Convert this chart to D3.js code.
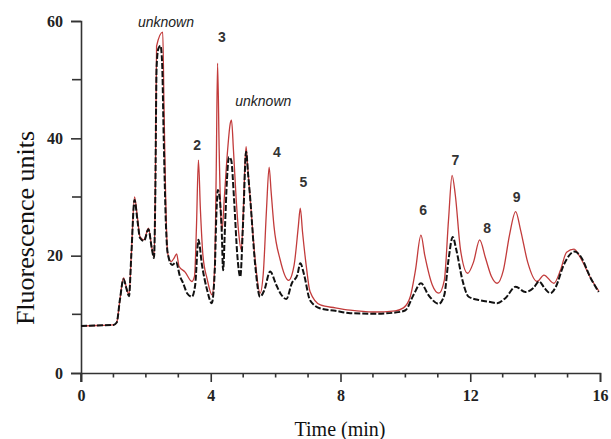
<!DOCTYPE html>
<html>
<head>
<meta charset="utf-8">
<script src="https://cdn.jsdelivr.net/npm/d3@7"></script>
<style>
  body { margin: 0; background: #fff; }
  svg { display: block; }
  .tick-lbl { font-family: "Liberation Serif", "Times New Roman", serif; font-size: 16px; font-weight: bold; fill: #222; }
  .axis-title { font-family: "Liberation Serif", "Times New Roman", serif; fill: #111; }
  .peak-lbl { font-family: "Liberation Sans", Arial, sans-serif; font-size: 14px; font-weight: bold; fill: #333; }
  .unk-lbl { font-family: "Liberation Sans", Arial, sans-serif; font-size: 14px; font-style: italic; fill: #222; }
</style>
</head>
<body>
<svg id="chart" width="611" height="439"></svg>
<script>
// red trace (solid)
var redTime = [0, 0.5, 1.0, 1.1, 1.2, 1.31, 1.4, 1.48, 1.55, 1.65, 1.74, 1.82, 1.94, 2.08, 2.18, 2.25, 2.29, 2.33, 2.52, 2.56, 2.61, 2.67, 2.78, 2.87, 2.95, 3.02, 3.21, 3.42, 3.5, 3.56, 3.62, 3.68, 3.76, 3.89, 4.04, 4.12, 4.17, 4.21, 4.26, 4.30, 4.35, 4.42, 4.52, 4.60, 4.64, 4.70, 4.78, 4.86, 4.94, 5.0, 5.05, 5.09, 5.14, 5.22, 5.37, 5.52, 5.62, 5.72, 5.80, 5.86, 5.95, 6.14, 6.40, 6.57, 6.70, 6.76, 6.83, 6.95, 7.06, 7.38, 7.84, 8.30, 9.01, 9.69, 9.94, 10.15, 10.31, 10.48, 10.6, 10.83, 11.03, 11.20, 11.33, 11.44, 11.54, 11.70, 11.92, 12.10, 12.29, 12.47, 12.65, 12.83, 13.02, 13.21, 13.40, 13.55, 13.77, 14.06, 14.27, 14.58, 14.78, 14.97, 15.2, 15.40, 15.71, 15.96];
var redSignal = [8.0, 8.1, 8.2, 8.6, 12.5, 16.2, 14.6, 13.3, 20, 30.0, 26.5, 23.2, 22.7, 24.7, 21.5, 19.8, 30, 55.7, 58.1, 45, 30, 20.5, 19.0, 19.6, 20.3, 18.2, 17.2, 15.6, 16.5, 25, 36.3, 28, 20, 16.0, 13.3, 18, 35, 52.8, 38, 28, 24.4, 30, 38, 42.5, 43.1, 38, 30, 24, 21.0, 27, 35, 38.6, 35, 29.5, 19.3, 13.6, 17, 28, 35.1, 31, 25, 19.3, 15.8, 18.4, 25, 28.1, 24, 18, 13.9, 11.6, 11.1, 10.7, 10.4, 10.6, 11.1, 13.0, 17.5, 23.5, 20.0, 15.0, 13.6, 15.8, 26.1, 33.7, 30.3, 21.0, 17.0, 18.9, 22.7, 19.6, 16.5, 15.3, 17.5, 23.5, 27.5, 24.4, 18.9, 15.6, 16.7, 15.3, 17.5, 20.6, 21.1, 19.6, 16.2, 14.0];

// black trace (dashed)
var blackTime = [0, 0.5, 1.0, 1.1, 1.2, 1.31, 1.4, 1.48, 1.55, 1.65, 1.74, 1.82, 1.94, 2.08, 2.18, 2.25, 2.29, 2.33, 2.38, 2.45, 2.5, 2.55, 2.62, 2.67, 2.81, 2.93, 3.05, 3.15, 3.27, 3.42, 3.52, 3.62, 3.73, 3.89, 4.03, 4.12, 4.18, 4.22, 4.29, 4.34, 4.38, 4.44, 4.50, 4.56, 4.63, 4.72, 4.82, 4.91, 5.0, 5.09, 5.15, 5.22, 5.37, 5.52, 5.65, 5.83, 6.02, 6.18, 6.33, 6.50, 6.67, 6.76, 6.88, 7.06, 7.38, 7.84, 8.30, 9.01, 9.69, 10.0, 10.25, 10.48, 10.71, 11.03, 11.20, 11.33, 11.46, 11.57, 11.76, 11.95, 12.31, 12.62, 12.83, 13.09, 13.40, 13.70, 13.95, 14.12, 14.30, 14.47, 14.63, 14.88, 15.22, 15.40, 15.71, 15.96];
var blackSignal = [8.0, 8.1, 8.2, 8.6, 12.5, 16.0, 14.4, 13.1, 20, 29.5, 26, 23.0, 22.5, 24.5, 21.3, 19.6, 30, 52, 55.2, 55.8, 53, 40, 25, 20.5, 18.4, 18.9, 16.5, 15.3, 13.6, 13.0, 15.0, 22.7, 18.4, 14.1, 11.9, 17, 28, 31.2, 29, 24, 17.5, 25, 33, 36.8, 36.3, 29.5, 20, 16.4, 26.1, 37.7, 34, 29.5, 18.4, 13.0, 14.1, 17.3, 15.0, 13.3, 12.6, 15.3, 16.7, 18.7, 16.7, 12.4, 11.0, 10.6, 10.2, 10.1, 10.3, 10.7, 13.3, 15.3, 13.3, 11.8, 13.3, 19.3, 23.2, 21.0, 15.8, 13.0, 12.4, 12.1, 11.9, 12.8, 14.7, 13.8, 14.5, 15.6, 14.4, 13.6, 14.6, 18.4, 20.7, 19.9, 16.2, 13.8];

// peak annotations
var peakNames = ["unknown", "2", "3", "unknown", "4", "5", "6", "7", "8", "9"];
var peakTime =  [2.62, 3.58, 4.34, 5.62, 6.04, 6.86, 10.55, 11.54, 12.52, 13.43];
var peakLevel = [59.8, 38.8, 57.3, 46.3, 37.7, 32.6, 27.8, 36.3, 24.7, 30.0];

var xTicks = [0, 4, 8, 12, 16];
var xMinor = [1, 2, 3, 5, 6, 7, 9, 10, 11, 13, 14, 15];
var yTicks = [0, 20, 40, 60];
var yMinor = [10, 30, 50];

var svg = d3.select('#chart');

var x = d3.scaleLinear().domain([0, 16]).range([81, 600]);
var y = d3.scaleLinear().domain([0, 60]).range([373, 21]);

var axisColor = '#333';

// x axis
var xAxis = svg.append('g')
  .attr('transform', 'translate(0,' + y(0) + ')')
  .call(d3.axisBottom(x).tickValues(xTicks).tickSize(9).tickPadding(8).tickFormat(d3.format('d')));
xAxis.append('g').selectAll('line')
  .data(xMinor)
  .enter()
  .append('line')
  .attr('x1', d => x(d)).attr('x2', d => x(d))
  .attr('y1', 0).attr('y2', 4.5);

// y axis
var yAxis = svg.append('g')
  .attr('transform', 'translate(' + x(0) + ',0)')
  .call(d3.axisLeft(y).tickValues(yTicks).tickSize(10).tickPadding(8).tickFormat(d3.format('d')));
yAxis.append('g').selectAll('line')
  .data(yMinor)
  .enter()
  .append('line')
  .attr('y1', d => y(d)).attr('y2', d => y(d))
  .attr('x1', 0).attr('x2', -9);

[xAxis, yAxis].forEach(a => {
  a.select('.domain').attr('stroke', axisColor).attr('stroke-width', 1.6);
  a.selectAll('line').attr('stroke', axisColor).attr('stroke-width', 1.6);
  a.selectAll('text').attr('class', 'tick-lbl').attr('fill', null);
});
// little overshoot of y axis below x axis
yAxis.append('line')
  .attr('x1', 0).attr('x2', 0)
  .attr('y1', y(0)).attr('y2', y(0) + 9)
  .attr('stroke', axisColor).attr('stroke-width', 1.6);

var line = d3.line()
  .x(d => x(d[0]))
  .y(d => y(d[1]))
  .curve(d3.curveMonotoneX);

var redData = redTime.map((t, i) => [t, redSignal[i]]);
var blackData = blackTime.map((t, i) => [t, blackSignal[i]]);

svg.append('path')
  .datum(redData)
  .attr('d', line)
  .attr('fill', 'none')
  .attr('stroke', '#c23b3b')
  .attr('stroke-width', 1.3);

svg.append('path')
  .datum(blackData)
  .attr('d', line)
  .attr('fill', 'none')
  .attr('stroke', '#111')
  .attr('stroke-width', 2)
  .attr('stroke-dasharray', '6,2');

// annotations
svg.append('g').selectAll('text')
  .data(peakNames)
  .enter()
  .append('text')
  .attr('class', d => d === 'unknown' ? 'unk-lbl' : 'peak-lbl')
  .attr('x', (d, i) => x(peakTime[i]))
  .attr('y', (d, i) => y(peakLevel[i]))
  .attr('dy', '0.35em')
  .attr('text-anchor', 'middle')
  .text(d => d);

// axis titles
svg.append('text')
  .attr('class', 'axis-title')
  .attr('x', 340)
  .attr('y', 436)
  .attr('text-anchor', 'middle')
  .style('font-size', '20px')
  .text('Time (min)');

svg.append('text')
  .attr('class', 'axis-title')
  .attr('transform', 'translate(34,228)rotate(-90)')
  .attr('text-anchor', 'middle')
  .style('font-size', '26px')
  .text('Fluorescence units');
</script>
</body>
</html>
